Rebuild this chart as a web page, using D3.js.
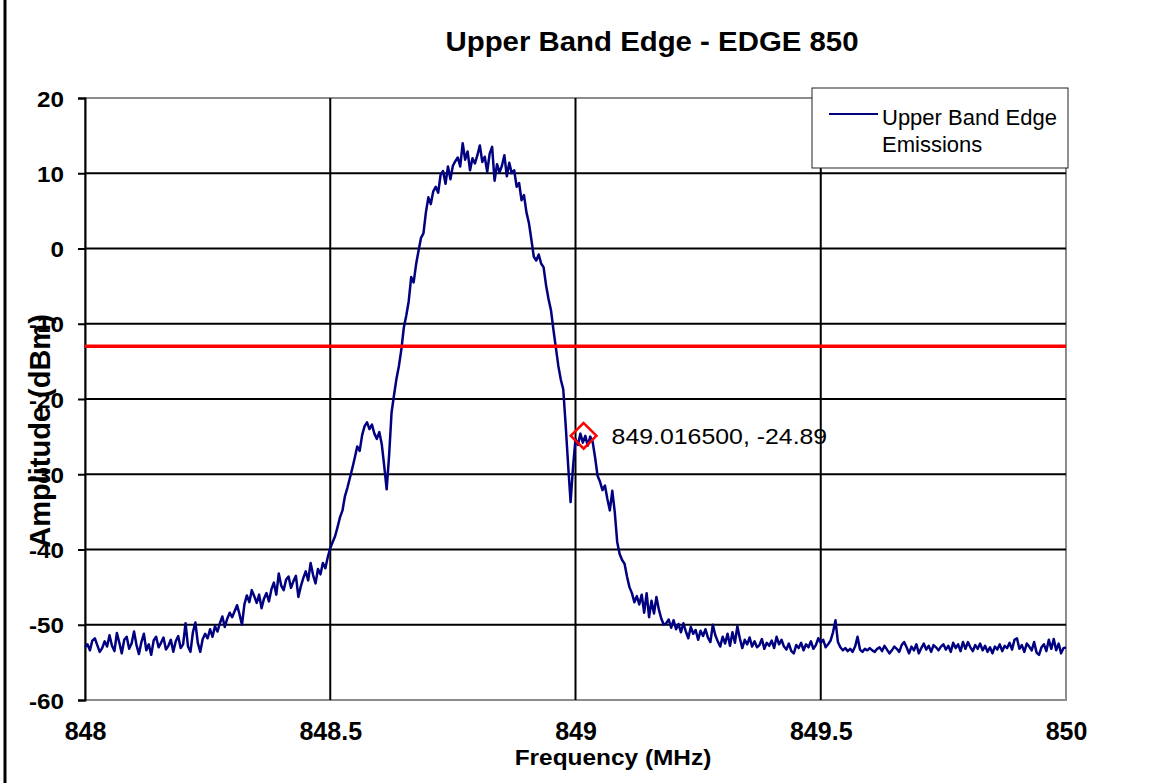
<!DOCTYPE html>
<html><head><meta charset="utf-8">
<script src="https://cdn.jsdelivr.net/npm/d3@7"></script>
<style>body{margin:0;background:#fff;}svg{display:block;font-family:"Liberation Sans",Arial,sans-serif;}</style>
</head><body>
<svg id="c" width="1151" height="783"></svg>
<script>
const title = "Upper Band Edge - EDGE 850";
const xTitle = "Frequency (MHz)";
const yTitle = "Amplitude (dBm)";
const seriesName = ["Upper Band Edge", "Emissions"];
const xTicks = [848, 848.5, 849, 849.5, 850];
const yTicks = [20, 10, 0, -10, -20, -30, -40, -50, -60];
const limitLine = -13;
const markerPoint = [849.0165, -24.89];
const markerLabel = "849.016500, -24.89";
const freqStart = 848.0, freqStep = 0.005;
const amplitude = [
-53.0,-52.6,-53.4,-52.1,-51.8,-52.7,-53.6,-53.1,-52.2,-52.9,
-51.4,-52.8,-53.5,-51.1,-52.4,-53.8,-52.0,-51.6,-53.2,-52.5,
-50.9,-52.7,-53.9,-52.3,-51.2,-53.4,-52.6,-54.0,-52.1,-51.6,
-53.0,-52.4,-51.7,-53.3,-52.8,-52.0,-53.6,-52.2,-51.5,-53.1,
-52.6,-49.8,-52.9,-53.6,-51.0,-49.7,-52.4,-53.6,-51.9,-51.2,
-51.8,-50.6,-51.6,-50.2,-50.9,-49.8,-48.9,-50.3,-49.2,-48.4,
-49.0,-48.2,-47.4,-48.6,-50.0,-47.3,-46.1,-47.0,-45.4,-46.2,
-47.1,-46.0,-47.8,-46.5,-45.8,-46.9,-45.3,-44.4,-46.0,-43.2,
-44.8,-45.4,-44.0,-43.6,-45.1,-44.2,-43.5,-46.3,-44.9,-43.8,
-42.9,-44.1,-41.8,-43.4,-44.5,-42.6,-43.3,-41.8,-42.5,-41.0,
-39.8,-39.0,-38.2,-37.0,-35.7,-34.8,-32.9,-31.8,-30.5,-29.2,
-27.8,-26.3,-26.9,-24.8,-23.6,-23.1,-24.0,-23.4,-24.6,-25.3,
-24.4,-26.0,-28.9,-32.0,-27.5,-21.8,-19.5,-17.3,-15.6,-13.4,
-10.5,-8.9,-7.0,-3.8,-4.5,-2.1,-0.3,1.4,2.0,4.8,
6.8,5.9,7.6,8.2,7.4,9.8,10.3,8.6,10.9,9.2,
11.0,11.6,12.1,10.9,14.0,11.8,12.9,10.4,12.0,11.3,
12.4,13.7,11.5,12.2,10.2,12.6,13.5,9.0,11.2,10.1,
11.0,12.4,9.6,11.4,10.0,10.4,8.2,8.7,6.4,7.1,
4.8,3.4,1.2,-1.1,-1.6,-0.8,-2.0,-2.5,-4.9,-6.7,
-8.2,-10.8,-13.2,-15.6,-17.4,-18.7,-23.5,-28.8,-33.7,-29.0,
-25.3,-26.1,-24.6,-25.8,-24.9,-26.2,-25.0,-25.7,-27.8,-30.2,
-31.0,-32.1,-31.5,-33.3,-34.8,-32.2,-35.0,-39.0,-40.6,-41.4,
-41.9,-43.6,-45.0,-45.8,-47.0,-46.2,-47.3,-46.0,-48.4,-45.8,
-49.0,-46.8,-48.5,-46.3,-48.0,-49.2,-50.0,-49.8,-49.3,-50.4,
-49.4,-50.6,-49.9,-51.0,-49.8,-50.9,-51.8,-50.3,-51.2,-50.7,
-52.0,-50.8,-51.5,-50.6,-51.7,-52.3,-50.0,-51.4,-52.2,-52.9,
-51.6,-52.5,-51.2,-52.8,-51.0,-52.4,-50.2,-51.8,-53.1,-52.0,
-52.6,-51.7,-52.9,-52.2,-53.0,-52.7,-51.9,-53.2,-52.4,-52.8,
-52.1,-53.1,-51.6,-52.6,-52.0,-52.9,-53.3,-52.5,-53.5,-53.8,
-52.7,-53.1,-52.4,-53.4,-52.6,-53.0,-52.2,-53.2,-52.7,-51.8,
-52.4,-52.0,-53.0,-52.6,-52.1,-51.0,-49.4,-52.3,-53.0,-53.4,
-53.1,-53.5,-53.2,-53.6,-52.9,-51.6,-53.3,-53.6,-53.2,-53.4,
-53.1,-53.4,-53.6,-53.2,-53.0,-53.5,-52.8,-53.3,-53.8,-53.4,
-52.9,-53.2,-53.6,-52.7,-52.3,-53.0,-53.8,-52.9,-53.4,-52.6,
-53.8,-53.1,-52.5,-53.3,-52.8,-53.6,-52.7,-53.0,-53.4,-52.9,
-52.6,-53.3,-52.8,-53.6,-52.4,-53.1,-52.6,-53.5,-52.3,-53.2,
-52.3,-53.0,-53.5,-52.7,-53.2,-52.5,-53.4,-52.8,-53.6,-53.0,
-53.8,-52.9,-53.3,-52.6,-53.5,-52.8,-53.1,-52.4,-53.3,-52.0,
-51.8,-53.2,-52.7,-53.6,-52.5,-52.9,-53.4,-52.3,-53.7,-54.0,
-53.0,-52.6,-53.5,-52.0,-53.2,-51.9,-53.4,-52.5,-53.8,-53.1,-53.0
];

const FONT = "Liberation Sans, Arial, sans-serif";
const svg = d3.select("#c");
const L = 85, R = 1066, T = 98, B = 700;
const x = d3.scaleLinear().domain([848, 850]).range([L, R]);
const y = d3.scaleLinear().domain([-60, 20]).range([B, T]);
const data = amplitude.map((v, i) => [freqStart + i * freqStep, v]);

// page border line
svg.append("rect").attr("x", 3.5).attr("y", 0).attr("width", 3).attr("height", 783).attr("fill", "#000");

// title
svg.append("text").attr("transform", "translate(652,51) scale(1.05,1)").attr("text-anchor", "middle")
  .attr("font-size", 28).attr("font-weight", "bold").text(title);

// plot frame (gray)
svg.append("rect").attr("x", L).attr("y", T).attr("width", R - L).attr("height", B - T)
  .attr("fill", "none").attr("stroke", "#8c8c8c").attr("stroke-width", 2);

// grid
const g = svg.append("g");
g.selectAll("line.h").data(yTicks.filter(t => t > -60 && t < 20)).join("line")
  .attr("x1", L).attr("x2", R).attr("y1", d => y(d)).attr("y2", d => y(d))
  .attr("stroke", "#000").attr("stroke-width", 2);
g.selectAll("line.v").data(xTicks.filter(t => t > 848 && t < 850)).join("line")
  .attr("x1", d => x(d)).attr("x2", d => x(d)).attr("y1", T).attr("y2", B)
  .attr("stroke", "#000").attr("stroke-width", 2);

// y axis
const yAxis = d3.axisLeft(y).tickValues(yTicks).tickSize(7).tickPadding(22).tickFormat(d => String(d));
const ya = svg.append("g").attr("transform", `translate(${L},0)`).call(yAxis);
ya.select(".domain").attr("stroke", "#000").attr("stroke-width", 2);
ya.selectAll(".tick line").attr("stroke", "#000").attr("stroke-width", 2);
ya.selectAll(".tick text").attr("font-size", 22).attr("font-weight", "bold")
  .attr("font-family", FONT).attr("fill", "#000")
  .attr("x", 0).attr("transform", "translate(-21,1) scale(1.1,1)");

// x axis
const xAxis = d3.axisBottom(x).tickValues(xTicks).tickSize(0).tickPadding(0).tickFormat(d => String(d));
const xa = svg.append("g").attr("transform", `translate(0,${B})`).call(xAxis);
xa.select(".domain").remove();
xa.selectAll(".tick text").attr("font-size", 25).attr("font-weight", "bold")
  .attr("font-family", FONT).attr("fill", "#000")
  .attr("y", 40).attr("dy", 0);

// curve
svg.append("path").datum(data)
  .attr("d", d3.line().x(d => x(d[0])).y(d => y(d[1])))
  .attr("fill", "none").attr("stroke", "#000080").attr("stroke-width", 2.5).attr("stroke-linejoin", "round");

// limit line
svg.append("line").attr("x1", L).attr("x2", R).attr("y1", y(limitLine)).attr("y2", y(limitLine))
  .attr("stroke", "#ff0000").attr("stroke-width", 3.5);

// marker
const mx = x(markerPoint[0]), my = y(markerPoint[1]);
svg.append("path").attr("d", d3.symbol(d3.symbolSquare, 330)())
  .attr("transform", `translate(${mx},${my}) rotate(45)`)
  .attr("fill", "none").attr("stroke", "#ff0000").attr("stroke-width", 2.5);
svg.append("text").attr("transform", `translate(${mx + 28},${my + 8}) scale(1.13,1)`)
  .attr("font-size", 22).text(markerLabel);

// axis titles
svg.append("text").attr("transform", "translate(613,765) scale(1.11,1)").attr("text-anchor", "middle")
  .attr("font-size", 22).attr("font-weight", "bold").text(xTitle);
svg.append("text").attr("transform", "translate(50,431) rotate(-90)").attr("text-anchor", "middle")
  .attr("font-size", 29).attr("font-weight", "bold").text(yTitle);

// legend
const lg = svg.append("g");
lg.append("rect").attr("x", 812).attr("y", 88).attr("width", 256).attr("height", 80)
  .attr("fill", "#fff").attr("stroke", "#222").attr("stroke-width", 1);
lg.append("line").attr("x1", 829).attr("x2", 878).attr("y1", 114).attr("y2", 114)
  .attr("stroke", "#000080").attr("stroke-width", 2);
lg.selectAll("text").data(seriesName).join("text")
  .attr("x", 882).attr("y", (d, i) => 125 + i * 27).attr("font-size", 22).text(d => d);
</script>
</body></html>
